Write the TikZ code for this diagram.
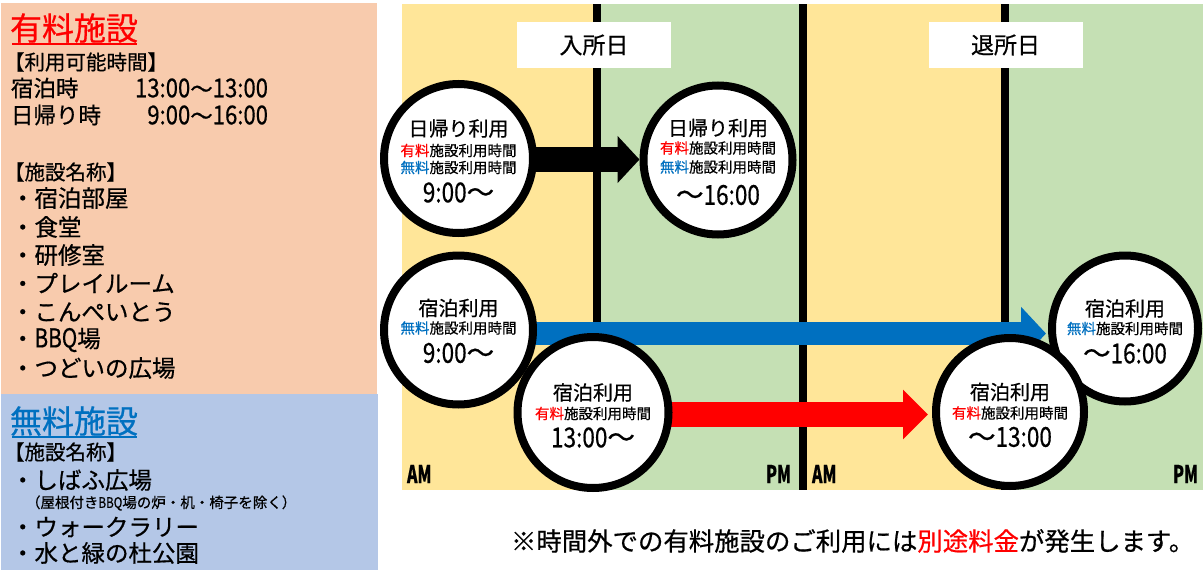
\documentclass[tikz,border=0pt]{standalone}
\usepackage{fontspec}
\setmainfont{Noto Sans CJK JP}[FakeBold=0.6]
\usetikzlibrary{arrows.meta}
\definecolor{peach}{HTML}{F8CBAD}
\definecolor{lblue}{HTML}{B4C7E7}
\definecolor{yel}{HTML}{FFE699}
\definecolor{grn}{HTML}{C5E0B4}
\definecolor{bl}{HTML}{0070C0}
\newcommand\fs[1]{\fontsize{#1}{#1}\selectfont}
\newcommand\cnd[2]{\scalebox{#1}[1]{#2}}
\newcommand\ap[1]{\scalebox{0.65}[1]{#1}}
\pgfdeclarelayer{bands}
\pgfdeclarelayer{arrs}
\pgfsetlayers{bands,arrs,main}
\begin{document}
\begin{tikzpicture}[x=1pt,y=-1pt,
  every node/.style={inner sep=0pt, outer sep=0pt},
  circ/.style={circle, draw=black, line width=8pt, fill=white, minimum size=#1, inner sep=0pt, outer sep=4pt},
  ttl/.style={font=\fs{20}},
  sub/.style={font=\fs{14.5}},
  tm/.style={font=\fs{27.5}},
  lt/.style={anchor=west, font=\fs{#1}},
  divider/.style={line width=8pt, draw=black},
  daybox/.style={fill=white, minimum width=154pt, minimum height=46pt, font=\fs{23}},
  ampm/.style={font=\fs{24.5}\bfseries},
  blk/.style={line width=25pt, draw=black, -{Triangle[length=22pt,width=46pt]}},
  blu/.style={line width=23pt, draw=bl, -{Triangle[length=25pt,width=52pt]}},
  rd/.style={line width=25pt, draw=red, -{Triangle[length=25pt,width=48pt]}}
]
\useasboundingbox (0,0) rectangle (1203,570);
\begin{pgfonlayer}{bands}
\fill[white] (0,0) rectangle (1203,570);
\fill[peach] (1,3) rectangle (377,394);
\fill[lblue] (1,394) rectangle (378,570);
\fill[yel] (402,4) rectangle (597,490);
\fill[grn] (597,4) rectangle (803,490);
\fill[yel] (803,4) rectangle (1005,490);
\fill[grn] (1005,4) rectangle (1203,490);
\draw[divider] (597,4) -- (597,490);
\draw[divider] (803,4) -- (803,490);
\draw[divider] (1005,4) -- (1005,490);
\node[daybox] (d1) at (594,45) {入所日};
\node[daybox] (d2) at (1005.5,45) {退所日};
\node[ampm, anchor=west] (am1) at (407,474) {\ap{AM}};
\node[ampm, anchor=east] (pm1) at (791,474) {\ap{PM}};
\node[ampm, anchor=west] (am2) at (812,474) {\ap{AM}};
\node[ampm, anchor=east] (pm2) at (1198,474) {\ap{PM}};
\end{pgfonlayer}

% left panel
\node[lt=32, text=red] (h1) at (10,28) {有料施設};
\draw[red, line width=2pt] (12,44) -- (137,44);
\node[lt=20.5] (k1) at (4,62) {【利用可能時間】};
\node[lt=22.5] (s1) at (11,88) {宿泊時};
\node[anchor=east, font=\fs{22.5}] (s1t) at (268,88) {{\fs{26}\cnd{0.85}{13:00}}～{\fs{26}\cnd{0.85}{13:00}}};
\node[lt=22.5] (s2) at (11,115) {日帰り時};
\node[anchor=east, font=\fs{22.5}] (s2t) at (268,115) {{\fs{26}\cnd{0.85}{9:00}}～{\fs{26}\cnd{0.85}{16:00}}};
\node[lt=20.5] (k2) at (4,172) {【施設名称】};
\node[lt=23.5] (i1) at (11,198) {・宿泊部屋};
\node[lt=23.5] (i2) at (11,227) {・食堂};
\node[lt=23.5] (i3) at (11,255) {・研修室};
\node[lt=23.5] (i4) at (11,283) {・プレイルーム};
\node[lt=23.5] (i5) at (11,312) {・こんぺいとう};
\node[lt=23.5] (i6) at (11,340) {・{\fs{26}\cnd{0.8}{BBQ}}場};
\node[lt=23.5] (i7) at (11,368) {・つどいの広場};

\node[lt=32, text=bl] (h2) at (10,421) {無料施設};
\draw[bl, line width=2pt] (12,437) -- (137,437);
\node[lt=20.5] (k3) at (4,452) {【施設名称】};
\node[lt=23.5] (j1) at (11,480) {・しばふ広場};
\node[lt=14.5] (j1n) at (26,503) {（屋根付き{\cnd{0.8}{BBQ}}場の炉・机・椅子を除く）};
\node[lt=23.5] (j2) at (11,527) {・ウォークラリー};
\node[lt=23.5] (j3) at (11,553) {・水と緑の杜公園};

% circles
\node[circ=149pt] (c1) at (458.5,158.5) {};
\node[ttl] at ([yshift=30pt]c1.center) {日帰り利用};
\node[sub] at ([yshift=8pt]c1.center) {{\color{red}有料}施設利用時間};
\node[sub] at ([yshift=-9pt]c1.center) {{\color{bl}無料}施設利用時間};
\node[tm] at ([yshift=-34pt]c1.center) {\cnd{0.82}{9:00}～};

\node[circ=149pt] (c2) at (718,160) {};
\node[ttl] at ([yshift=32pt]c2.center) {日帰り利用};
\node[sub] at ([yshift=12pt]c2.center) {{\color{red}有料}施設利用時間};
\node[sub] at ([yshift=-7pt]c2.center) {{\color{bl}無料}施設利用時間};
\node[tm] at ([yshift=-35pt]c2.center) {～\cnd{0.82}{16:00}};

\node[circ=149pt] (c3) at (458.5,330) {};
\node[ttl] at ([yshift=22pt]c3.center) {宿泊利用};
\node[sub] at ([yshift=2pt]c3.center) {{\color{bl}無料}施設利用時間};
\node[tm] at ([yshift=-23pt]c3.center) {\cnd{0.82}{9:00}～};

\node[circ=146pt] (c4) at (1125,328.5) {};
\node[ttl] at ([yshift=20pt]c4.center) {宿泊利用};
\node[sub] at ([yshift=0pt]c4.center) {{\color{bl}無料}施設利用時間};
\node[tm] at ([yshift=-25pt]c4.center) {～\cnd{0.82}{16:00}};

\node[circ=151pt] (c5) at (593,412.5) {};
\node[ttl] at ([yshift=20pt]c5.center) {宿泊利用};
\node[sub] at ([yshift=-1pt]c5.center) {{\color{red}有料}施設利用時間};
\node[tm] at ([yshift=-25pt]c5.center) {\cnd{0.82}{13:00}～};

\node[circ=148pt] (c6) at (1010,412) {};
\node[ttl] at ([yshift=20pt]c6.center) {宿泊利用};
\node[sub] at ([yshift=-1pt]c6.center) {{\color{red}有料}施設利用時間};
\node[tm] at ([yshift=-25pt]c6.center) {～\cnd{0.82}{13:00}};

% arrows
\coordinate (a0) at ([yshift=-1pt]c1.center);
\coordinate (a1) at (c2.west);
\coordinate (b0) at ([yshift=-3.5pt]c3.center);
\coordinate (b1) at ([xshift=-2pt]c4.west);
\coordinate (r0) at ([yshift=-2pt]c5.center);
\coordinate (r1) at ([xshift=-4pt]c6.west);
\begin{pgfonlayer}{arrs}
\draw[blk] (a0) -- (a1 |- a0);
\draw[blu] (b0) -- (b1 |- b0);
\draw[rd] (r0) -- (r1 |- r0);
\end{pgfonlayer}

\node[anchor=west, font=\fs{25.4}] (note) at (511,541) {※時間外での有料施設のご利用には{\color{red}別途料金}が発生します。};
\end{tikzpicture}
\end{document}
